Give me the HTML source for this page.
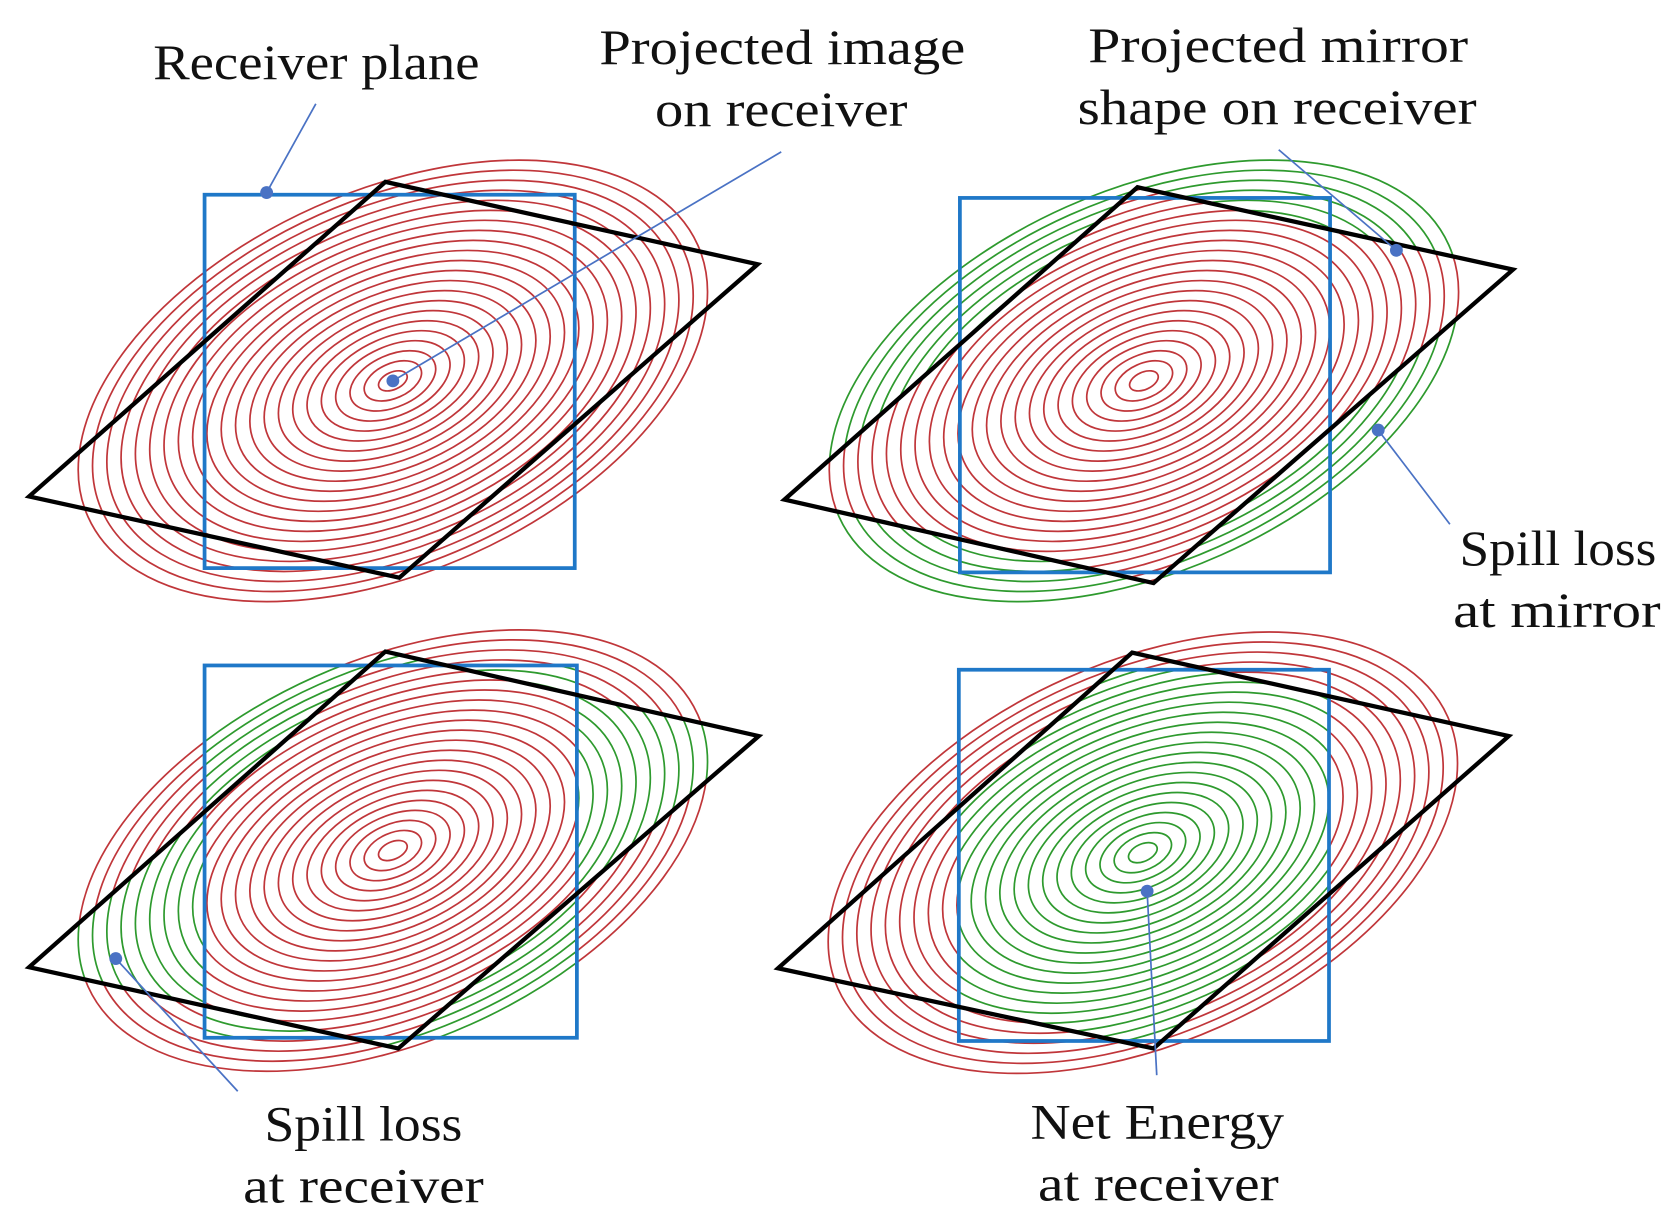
<!DOCTYPE html>
<html><head><meta charset="utf-8"><style>
html,body{margin:0;padding:0;background:#fff;}
svg{display:block;}
text{font-family:"Liberation Serif",serif;font-size:46px;fill:#111;}
</style></head><body>
<svg width="1678" height="1225" viewBox="0 0 1568 1145" xmlns="http://www.w3.org/2000/svg">
<defs>
<g id="rings" fill="none" stroke-width="1.6">
<ellipse rx="14.2" ry="8.1"/><ellipse rx="28.4" ry="16.2"/><ellipse rx="42.5" ry="24.3"/><ellipse rx="56.7" ry="32.4"/>
<ellipse rx="70.9" ry="40.5"/><ellipse rx="85.1" ry="48.5"/><ellipse rx="99.3" ry="56.6"/><ellipse rx="113.5" ry="64.7"/>
<ellipse rx="127.6" ry="72.8"/><ellipse rx="141.8" ry="80.9"/><ellipse rx="156" ry="89"/><ellipse rx="170.2" ry="97.1"/>
<ellipse rx="184.4" ry="105.2"/><ellipse rx="198.5" ry="113.3"/><ellipse rx="212.7" ry="121.4"/><ellipse rx="226.9" ry="129.5"/>
<ellipse rx="241.1" ry="137.5"/><ellipse rx="255.3" ry="145.6"/><ellipse rx="269.5" ry="153.7"/><ellipse rx="283.6" ry="161.8"/>
<ellipse rx="297.8" ry="169.9"/><ellipse rx="312" ry="178"/>
</g>
<clipPath id="q2"><polygon points="1063,175 1414,252 1078,545 733,467"/></clipPath>
<clipPath id="q3"><path clip-rule="evenodd" d="M360,609 L709,688 L372,980 L27,904 Z M191,622 L539,622 L539,970 L191,970 Z"/></clipPath>
<clipPath id="r4"><rect x="896" y="626" width="346" height="347"/></clipPath>
<clipPath id="q4"><polygon points="1058,610 1410,688 1078,980 727,905"/></clipPath>
</defs>

<use href="#rings" stroke="#c0363a" transform="translate(367,356) rotate(-24)"/>
<rect x="191" y="182" width="346" height="349" fill="none" stroke="#1f78c8" stroke-width="3.5"/>
<polygon points="360,170 708,247 373,540 27,464" fill="none" stroke="#000" stroke-width="4"/>

<use href="#rings" stroke="#2e9a2e" transform="translate(1069,356) rotate(-24)"/>
<g clip-path="url(#q2)"><rect x="700" y="150" width="750" height="420" fill="#fff"/>
<use href="#rings" stroke="#c0363a" transform="translate(1069,356) rotate(-24)"/></g>
<rect x="897" y="185" width="346" height="350" fill="none" stroke="#1f78c8" stroke-width="3.5"/>
<polygon points="1063,175 1414,252 1078,545 733,467" fill="none" stroke="#000" stroke-width="4"/>

<use href="#rings" stroke="#c0363a" transform="translate(367,795) rotate(-24)"/>
<g clip-path="url(#q3)"><rect x="0" y="590" width="750" height="420" fill="#fff"/>
<use href="#rings" stroke="#2e9a2e" transform="translate(367,795) rotate(-24)"/></g>
<rect x="191" y="622" width="348" height="348" fill="none" stroke="#1f78c8" stroke-width="3.5"/>
<polygon points="360,609 709,688 372,980 27,904" fill="none" stroke="#000" stroke-width="4"/>

<use href="#rings" stroke="#c0363a" transform="translate(1068,797) rotate(-24)"/>
<g clip-path="url(#r4)"><g clip-path="url(#q4)"><rect x="700" y="590" width="750" height="420" fill="#fff"/>
<use href="#rings" stroke="#2e9a2e" transform="translate(1068,797) rotate(-24)"/></g></g>
<rect x="896" y="626" width="346" height="347" fill="none" stroke="#1f78c8" stroke-width="3.5"/>
<polygon points="1058,610 1410,688 1078,980 727,905" fill="none" stroke="#000" stroke-width="4"/>

<g stroke="#4a72c4" stroke-width="1.6" fill="none">
<line x1="295" y1="97" x2="249" y2="180"/>
<line x1="730" y1="142" x2="367" y2="356"/>
<line x1="1195" y1="140" x2="1305" y2="234"/>
<line x1="1355" y1="490" x2="1288" y2="402"/>
<line x1="222" y1="1020" x2="108" y2="896"/>
<line x1="1081" y1="1005" x2="1072" y2="833"/>
</g>
<g fill="#4a72c4">
<circle cx="249" cy="180" r="6"/><circle cx="367" cy="356" r="6"/><circle cx="1305" cy="234" r="6"/>
<circle cx="1288" cy="402" r="6"/><circle cx="108" cy="896" r="6"/><circle cx="1072" cy="833" r="6"/>
</g>

<text x="143" y="74" textLength="305" lengthAdjust="spacingAndGlyphs">Receiver plane</text>
<text x="560" y="60" textLength="342" lengthAdjust="spacingAndGlyphs">Projected image</text>
<text x="612" y="118" textLength="236" lengthAdjust="spacingAndGlyphs">on receiver</text>
<text x="1017" y="58" textLength="355" lengthAdjust="spacingAndGlyphs">Projected mirror</text>
<text x="1007" y="116" textLength="373" lengthAdjust="spacingAndGlyphs">shape on receiver</text>
<text x="1364" y="528" textLength="184" lengthAdjust="spacingAndGlyphs">Spill loss</text>
<text x="1358" y="586" textLength="194" lengthAdjust="spacingAndGlyphs">at mirror</text>
<text x="247" y="1066" textLength="185" lengthAdjust="spacingAndGlyphs">Spill loss</text>
<text x="227" y="1124" textLength="225" lengthAdjust="spacingAndGlyphs">at receiver</text>
<text x="963" y="1064" textLength="237" lengthAdjust="spacingAndGlyphs">Net Energy</text>
<text x="970" y="1122" textLength="225" lengthAdjust="spacingAndGlyphs">at receiver</text>
</svg>
</body></html>
